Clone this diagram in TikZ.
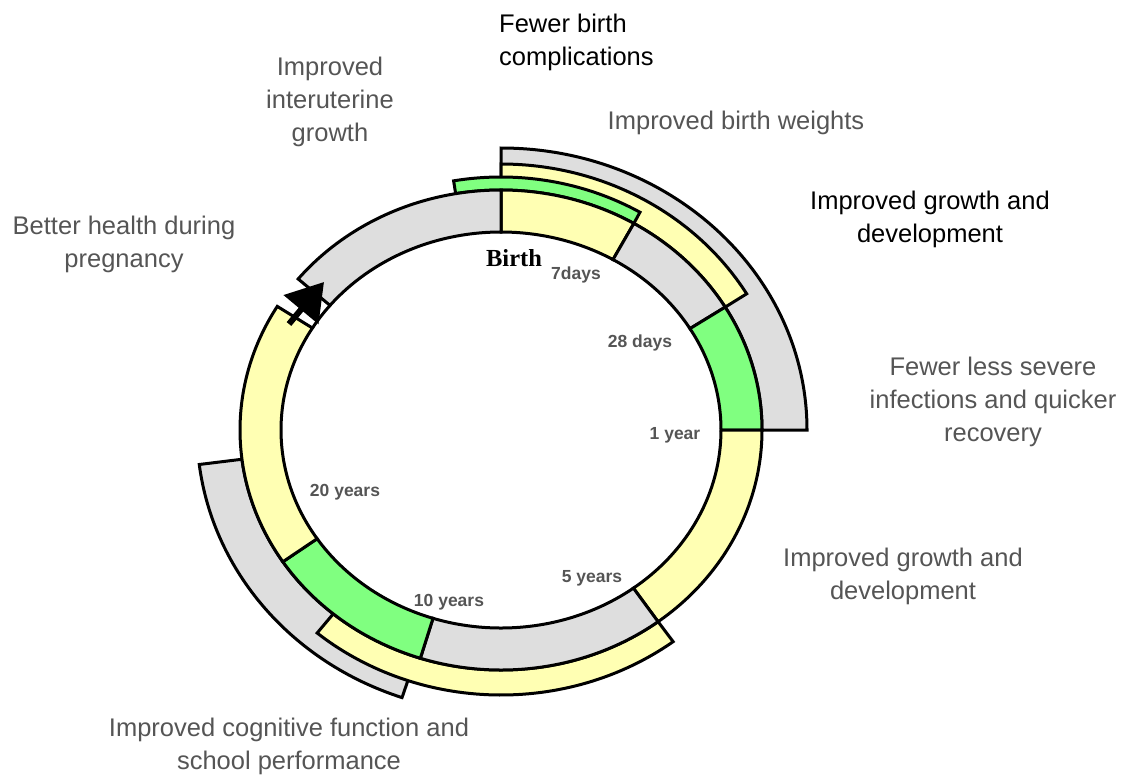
\documentclass[tikz,border=0pt]{standalone}
\usepackage{fontspec}
\setmainfont{Liberation Sans}
\newfontfamily\birthfont{Liberation Serif}
\usetikzlibrary{calc,arrows.meta}
\definecolor{bandyellow}{RGB}{255,255,179}
\definecolor{bandgreen}{RGB}{128,255,128}
\definecolor{bandgray}{RGB}{222,222,222}
\definecolor{txtgray}{RGB}{85,85,85}
% #1 fill, #2 start angle, #3 end angle, #4/#5 inner radii, #6/#7 outer radii
\newcommand{\band}[7]{%
  \draw[ringline, fill=#1] ($(C)+(#2:#6 and #7)$)
    arc[start angle=#2, end angle=#3, x radius=#6, y radius=#7]
    -- ($(C)+(#3:#4 and #5)$)
    arc[start angle=#3, end angle=#2, x radius=#4, y radius=#5] -- cycle;}
\begin{document}
\begin{tikzpicture}[x=1pt,y=1pt,
  ringline/.style={draw=black, line width=3pt},
  biglabel/.style={font=\fontsize{25.5}{33}\selectfont, align=center, inner sep=0pt},
  graylabel/.style={biglabel, text=txtgray},
  blacklabel/.style={biglabel, text=black},
  agelabel/.style={font=\fontsize{17.5}{20}\selectfont\bfseries, text=txtgray, inner sep=0pt}]
\path[use as bounding box] (0,0) rectangle (1124,-777);
\coordinate (C) at (501,-430);

% outer bands, top right
\band{bandgray}{0}{90}{261}{240}{306}{282}
\band{bandyellow}{30.8}{90}{261}{240}{286}{266}
\band{bandgreen}{59.4}{100}{261}{240}{273}{253}

% outer bands, bottom left
\band{bandgray}{187}{251}{261}{240}{304}{283}
\band{bandyellow}{230}{307}{261}{240}{286}{265}

% main ring
\band{bandyellow}{59.4}{90}{220}{198}{261}{240}
\band{bandgray}{30.8}{59.4}{220}{198}{261}{240}
\band{bandgreen}{0}{30.8}{220}{198}{261}{240}
\band{bandyellow}{-53}{0}{220}{198}{261}{240}
\band{bandgray}{-108}{-53}{220}{198}{261}{240}
\band{bandgreen}{-146.7}{-108}{220}{198}{261}{240}
\band{bandyellow}{149}{213.3}{220}{198}{261}{240}
\band{bandgray}{90}{141}{220}{198}{261}{240}
\draw[ringline] ($(C)+(141:220 and 198)$) arc[start angle=141, end angle=149, x radius=220, y radius=198];

% arrow
\coordinate (arrowstart) at (289,-324);
\coordinate (arrowtip) at (324,-282);
\draw[line width=6pt, -{Triangle[length=36pt,width=44pt]}] (arrowstart) -- (arrowtip);

% ring labels
\node[font=\fontsize{24.5}{28}\selectfont\birthfont\bfseries, inner sep=0pt] (birth) at (514,-258) {Birth};
\node[agelabel] (d7) at (576,-275) {7days};
\node[agelabel] (d28) at (640,-343) {28 days};
\node[agelabel] (y1) at (675,-435) {1 year};
\node[agelabel] (y5) at (592,-578) {5 years};
\node[agelabel] (y10) at (449,-602) {10 years};
\node[agelabel] (y20) at (345,-492) {20 years};

% outer labels
\node[blacklabel, align=left, anchor=west] (compl) at (499,-42) {Fewer birth\\complications};
\node[graylabel] (inter) at (330,-102) {Improved\\interuterine\\growth};
\node[graylabel] (weights) at (736,-123) {Improved birth weights};
\node[blacklabel] (growth1) at (930,-219) {Improved growth and\\development};
\node[graylabel] (preg) at (124,-244) {Better health during\\pregnancy};
\node[graylabel] (infect) at (993,-402) {Fewer less severe\\infections and quicker\\recovery};
\node[graylabel] (growth2) at (903,-576) {Improved growth and\\development};
\node[graylabel] (cogn) at (289,-746) {Improved cognitive function and\\school performance};
\end{tikzpicture}
\end{document}
